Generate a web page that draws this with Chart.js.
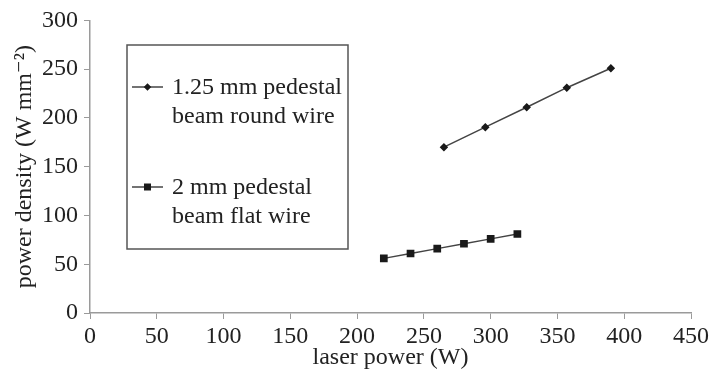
<!DOCTYPE html>
<html>
<head>
  <meta charset="utf-8" />
  <script src="https://cdn.jsdelivr.net/npm/chart.js@4.4.1/dist/chart.umd.min.js"></script>
  <style>
    html, body { margin: 0; padding: 0; background: #ffffff; }
    #wrap { width: 712px; height: 374px; }
  </style>
</head>
<body>
  <div id="wrap"><canvas id="chart" width="712" height="374"></canvas></div>
  <script>
    // series
    var roundWireX = [265, 296, 327, 357, 390];
    var roundWireY = [170, 190.5, 211, 231, 251];
    var flatWireX = [220, 240, 260, 280, 300, 320];
    var flatWireY = [56, 61, 66, 71, 76, 81];
    var roundWireLabel = ["1.25 mm pedestal", "beam round wire"];
    var flatWireLabel = ["2 mm pedestal", "beam flat wire"];

    var serif = "'Liberation Serif', 'DejaVu Serif', serif";
    var axisGray = "#9a9a9a";

    function pts(xs, ys) {
      return xs.map(function (x, i) { return { x: x, y: ys[i] }; });
    }

    // boxed legend inside the plot, drawn on the canvas
    var boxLegend = {
      id: "boxLegend",
      afterDraw: function (chart) {
        var ctx = chart.ctx;
        var left = 127, top = 45, right = 348, bottom = 249;
        ctx.save();
        ctx.strokeStyle = "#555555";
        ctx.lineWidth = 1.5;
        ctx.strokeRect(left, top, right - left, bottom - top);

        var rows = [87, 187];
        chart.data.datasets.forEach(function (ds, i) {
          var y = rows[i];
          ctx.strokeStyle = ds.borderColor;
          ctx.lineWidth = 1.5;
          ctx.beginPath();
          ctx.moveTo(132, y);
          ctx.lineTo(163, y);
          ctx.stroke();
          ctx.fillStyle = ds.pointBackgroundColor;
          ctx.strokeStyle = ds.pointBorderColor;
          Chart.helpers.drawPoint(ctx, {
            pointStyle: ds.pointStyle,
            radius: ds.pointRadius - 0.5,
            borderWidth: 1
          }, 147.5, y);
          ctx.fillStyle = "#222222";
          ctx.font = "24px " + serif;
          ctx.textBaseline = "middle";
          ctx.textAlign = "left";
          ds.label.forEach(function (line, k) {
            ctx.fillText(line, 172, y + 1 + k * 29);
          });
        });
        ctx.restore();
      }
    };

    new Chart(document.getElementById("chart"), {
      type: "scatter",
      data: {
        datasets: [{
          label: roundWireLabel,
          data: pts(roundWireX, roundWireY),
          showLine: true,
          borderColor: "#444444",
          backgroundColor: "#1a1a1a",
          borderWidth: 1.5,
          pointStyle: "rectRot",
          pointRadius: 3.2,
          pointBorderColor: "#1a1a1a",
          pointBackgroundColor: "#1a1a1a"
        }, {
          label: flatWireLabel,
          data: pts(flatWireX, flatWireY),
          showLine: true,
          borderColor: "#444444",
          backgroundColor: "#1a1a1a",
          borderWidth: 1.5,
          pointStyle: "rect",
          pointRadius: 4.4,
          pointBorderColor: "#1a1a1a",
          pointBackgroundColor: "#1a1a1a"
        }]
      },
      options: {
        responsive: false,
        animation: false,
        devicePixelRatio: 1,
        layout: { padding: { top: 20, right: 19, left: 0, bottom: 0 } },
        plugins: {
          legend: { display: false },
          tooltip: { enabled: false }
        },
        scales: {
          x: {
            type: "linear",
            min: 0,
            max: 450,
            ticks: { stepSize: 50, color: "#222222", padding: 3, font: { family: serif, size: 24 } },
            grid: { drawOnChartArea: false, drawTicks: true, tickLength: 6, color: axisGray },
            border: { color: axisGray, width: 1.5 },
            title: { display: true, text: "laser power (W)", color: "#222222", padding: { top: 0, bottom: 2 }, font: { family: serif, size: 24 } },
            afterFit: function (axis) { axis.height = 61; }
          },
          y: {
            min: 0,
            max: 300,
            ticks: { stepSize: 50, color: "#222222", padding: 6, font: { family: serif, size: 24 } },
            grid: { drawOnChartArea: false, drawTicks: true, tickLength: 6, color: axisGray },
            border: { color: axisGray, width: 1.5 },
            title: { display: true, text: "power density (W mm\u207B\u00B2)", color: "#222222", padding: { top: 10, bottom: 0 }, font: { family: serif, size: 24 } },
            afterFit: function (axis) { axis.width = 90; }
          }
        }
      },
      plugins: [boxLegend]
    });
  </script>
</body>
</html>
